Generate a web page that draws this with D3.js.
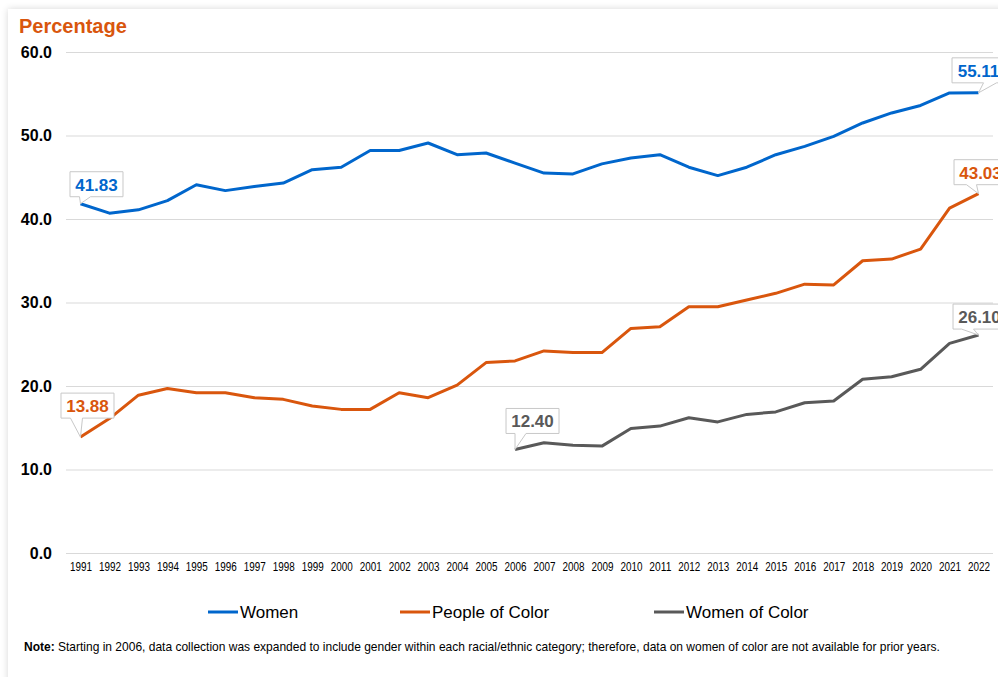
<!DOCTYPE html>
<html>
<head>
<meta charset="utf-8">
<script src="https://cdn.jsdelivr.net/npm/d3@7"></script>
<style>
  html, body { margin: 0; padding: 0; width: 998px; height: 677px; overflow: hidden; background: #ffffff; }
  #card { position: absolute; left: 8px; top: 9px; width: 1100px; height: 800px; background: #fff;
          box-shadow: 0 0 7px rgba(0,0,0,0.16); }
  svg { position: absolute; left: 0; top: 0; }
</style>
</head>
<body>
<div id="card"></div>
<svg id="chart" width="998" height="677"></svg>
<script>
// ---- data ----
const years = [1991,1992,1993,1994,1995,1996,1997,1998,1999,2000,2001,2002,2003,2004,2005,2006,
               2007,2008,2009,2010,2011,2012,2013,2014,2015,2016,2017,2018,2019,2020,2021,2022];
const women = [41.83,40.7,41.1,42.2,44.1,43.4,43.9,44.3,45.9,46.2,48.2,48.2,49.1,47.7,47.9,46.7,
               45.5,45.4,46.6,47.3,47.7,46.2,45.2,46.2,47.7,48.7,49.9,51.5,52.7,53.6,55.1,55.11];
const peopleOfColor = [13.88,16.1,18.9,19.7,19.2,19.2,18.6,18.4,17.6,17.2,17.2,19.2,18.6,20.1,22.8,23.0,
               24.2,24.0,24.0,26.9,27.1,29.5,29.5,30.3,31.1,32.2,32.1,35.0,35.2,36.4,41.3,43.03];
const womenOfColorYears = [2006,2007,2008,2009,2010,2011,2012,2013,2014,2015,2016,2017,2018,2019,2020,2021,2022];
const womenOfColor = [12.40,13.2,12.9,12.8,14.9,15.2,16.2,15.7,16.6,16.9,18.0,18.2,20.8,21.1,22.0,25.1,26.10];
const yTicks = [0,10,20,30,40,50,60];
const seriesNames = ["Women","People of Color","Women of Color"];
const yTitle = "Percentage";
const noteBold = "Note:";
const noteText = " Starting in 2006, data collection was expanded to include gender within each racial/ethnic category; therefore, data on women of color are not available for prior years.";

// ---- styles ----
const colors = ["#0066cc", "#d9560d", "#595959"];
const svg = d3.select("#chart");

const x = d3.scalePoint().domain(years).range([66, 993]).padding(0.5);
const y = d3.scaleLinear().domain([0, 60]).range([553, 52]);

// title
svg.append("text").attr("x", 19).attr("y", 33)
  .attr("font-family", "Liberation Sans, Arial, sans-serif").attr("font-weight", "bold")
  .attr("font-size", 20).attr("fill", "#d9560d").text(yTitle);

// grid
const yAxis = d3.axisLeft(y).tickValues(yTicks).tickSize(-(993 - 66)).tickFormat(d => d.toFixed(1)).tickPadding(14);
const gy = svg.append("g").attr("transform", "translate(66,0)").call(yAxis);
gy.select(".domain").remove();
gy.selectAll(".tick line").attr("stroke", "#d9d9d9").attr("stroke-width", 1);
gy.selectAll(".tick text").attr("font-family", "Liberation Sans, Arial, sans-serif")
  .attr("font-weight", "bold").attr("font-size", 16).attr("fill", "#000");

// x axis
const xAxis = d3.axisBottom(x).tickSize(0).tickPadding(0);
const gx = svg.append("g").attr("transform", "translate(0,562)").call(xAxis);
gx.select(".domain").remove();
gx.selectAll(".tick text").attr("font-family", "Liberation Sans, Arial, sans-serif")
  .attr("font-size", 12).attr("fill", "#000").attr("dy", "0.71em")
  .attr("textLength", 22).attr("lengthAdjust", "spacingAndGlyphs");

// lines
const line = d3.line().x(d => x(d[0])).y(d => y(d[1]));
const seriesData = [
  years.map((yr, i) => [yr, women[i]]),
  years.map((yr, i) => [yr, peopleOfColor[i]]),
  womenOfColorYears.map((yr, i) => [yr, womenOfColor[i]])
];
seriesData.forEach((s, i) => {
  svg.append("path").datum(s).attr("d", line).attr("fill", "none")
    .attr("stroke", colors[i]).attr("stroke-width", 3).attr("stroke-linejoin", "round");
});

// callout labels (placement offsets are layout only)
const callouts = [
  { s: 0, idx: 0, dx: -10.5, gap: 7,  t1: -1,  t2: 10 },
  { s: 0, idx: -1, dx: -26.5, gap: 10, t1: 5,  t2: 18 },
  { s: 1, idx: 0, dx: -19.5, gap: 19, t1: -10, t2: 2 },
  { s: 1, idx: -1, dx: -24.5, gap: 9,  t1: -12, t2: -2 },
  { s: 2, idx: 0, dx: -9,    gap: 16, t1: 0,   t2: 11 },
  { s: 2, idx: -1, dx: -25.5, gap: 6,  t1: -17, t2: -5 }
];
const bw = 53, bh = 25;
callouts.forEach(c => {
  const s = seriesData[c.s];
  const d = c.idx < 0 ? s[s.length - 1] : s[c.idx];
  const px = x(d[0]), py = y(d[1]);
  const L = px + c.dx, R = L + bw, B = py - c.gap, T = B - bh;
  const path = `M${L},${T}H${R}V${B}H${px + c.t2}L${px},${py}L${px + c.t1},${B}H${L}Z`;
  svg.append("path").attr("d", path).attr("fill", "#fff").attr("stroke", "#c8c8c8").attr("stroke-width", 1);
  svg.append("text").attr("x", L + bw / 2).attr("y", B - 6)
    .attr("text-anchor", "middle")
    .attr("font-family", "Liberation Sans, Arial, sans-serif").attr("font-weight", "bold")
    .attr("font-size", 17).attr("fill", colors[c.s]).text(d[1].toFixed(2));
});

// legend
const legendX = [208, 400, 654];
seriesNames.forEach((n, i) => {
  const g = svg.append("g");
  g.append("line").attr("x1", legendX[i]).attr("x2", legendX[i] + 30).attr("y1", 612).attr("y2", 612)
    .attr("stroke", colors[i]).attr("stroke-width", 3);
  g.append("text").attr("x", legendX[i] + 32).attr("y", 618)
    .attr("font-family", "Liberation Sans, Arial, sans-serif").attr("font-size", 17).attr("fill", "#000").text(n);
});

// note (condensed to the reference width)
const note = svg.append("text").attr("x", 0).attr("y", 0)
  .attr("font-family", "Liberation Sans, Arial, sans-serif")
  .attr("font-size", 13).attr("fill", "#000");
note.append("tspan").attr("font-weight", "bold").text(noteBold);
note.append("tspan").text(noteText);
const noteW = note.node().getComputedTextLength();
note.attr("transform", `translate(24,651) scale(${917 / noteW},1)`);
</script>
</body>
</html>
